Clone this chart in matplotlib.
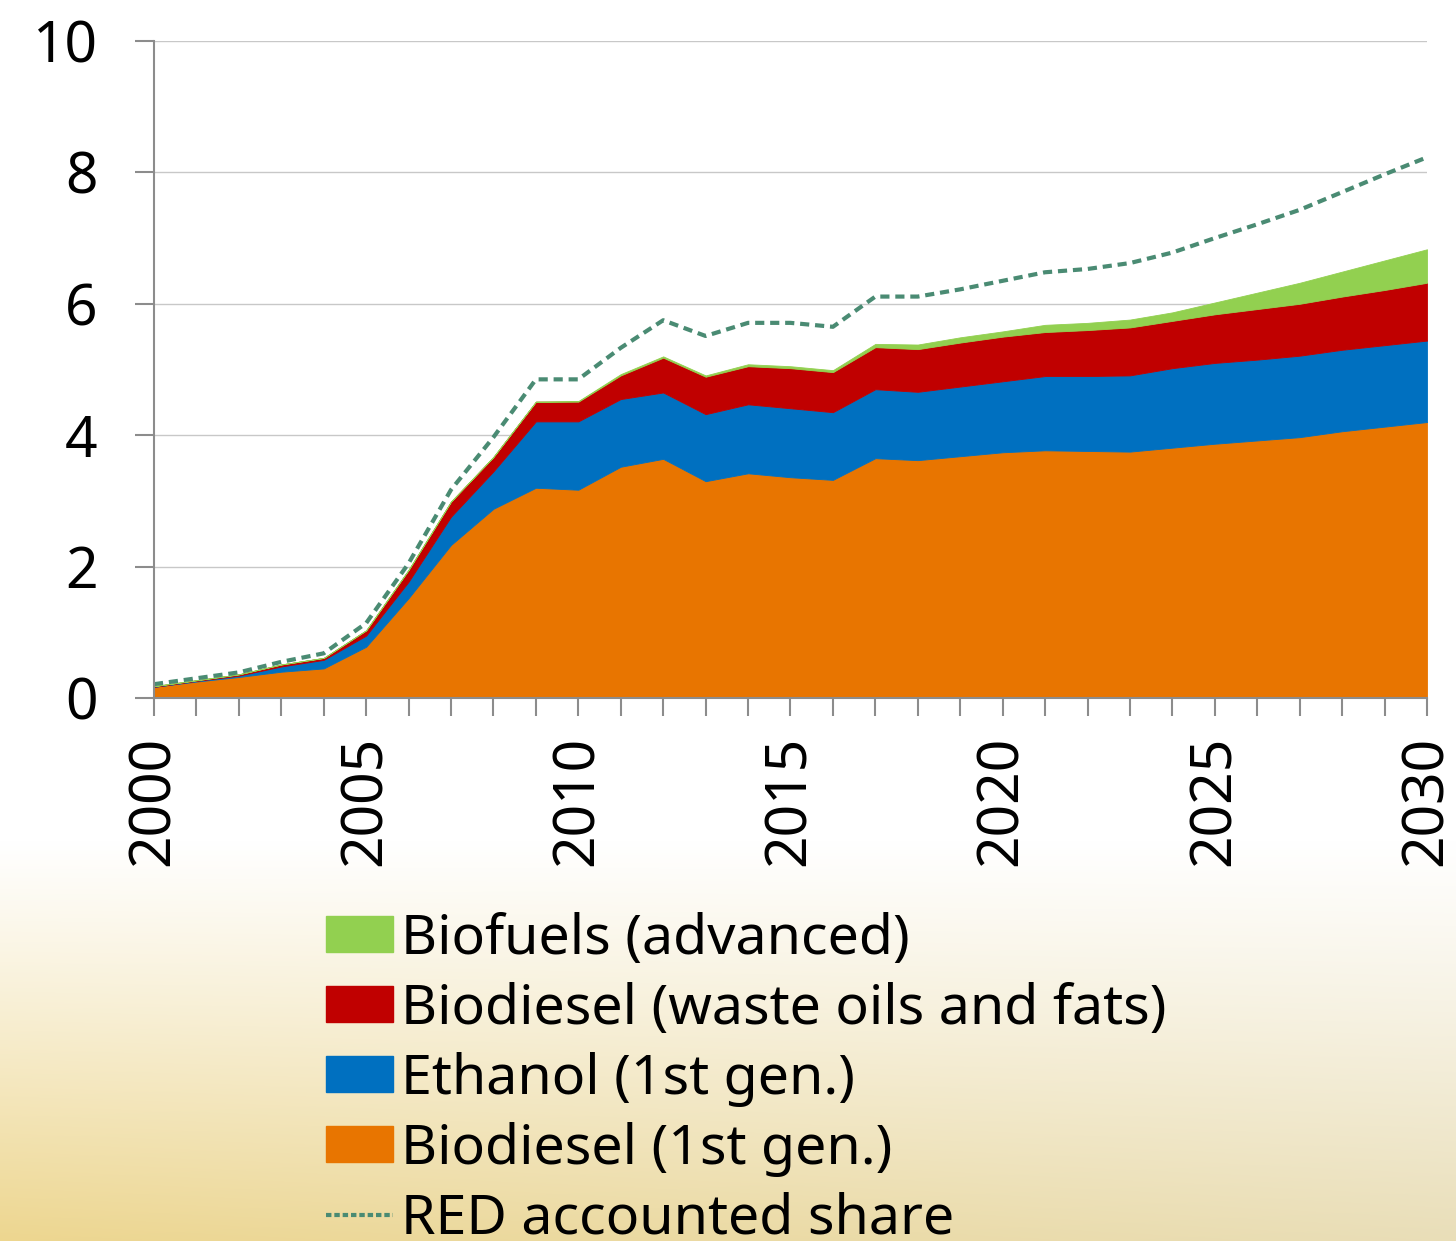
import matplotlib
matplotlib.use('Agg')
import matplotlib.pyplot as plt
from matplotlib.patches import Patch
from matplotlib.lines import Line2D
import numpy as np

plt.rcParams['font.family'] = ['Noto Sans', 'DejaVu Sans']

years = list(range(2000, 2031))

# shares per fuel type (%)
biodiesel_1st = [0.17, 0.25, 0.32, 0.40, 0.45, 0.78, 1.52, 2.33, 2.88, 3.20, 3.17,
                 3.52, 3.64, 3.30, 3.42, 3.36, 3.32, 3.65, 3.62, 3.68, 3.74,
                 3.77, 3.76, 3.75, 3.81, 3.87, 3.92, 3.97, 4.06, 4.13, 4.20]
ethanol_1st = [0.00, 0.01, 0.02, 0.08, 0.13, 0.17, 0.25, 0.43, 0.57, 1.01, 1.04,
               1.03, 1.01, 1.02, 1.05, 1.05, 1.03, 1.05, 1.04, 1.06, 1.08,
               1.13, 1.14, 1.16, 1.21, 1.23, 1.23, 1.24, 1.24, 1.24, 1.24]
biodiesel_waste = [0.01, 0.01, 0.02, 0.03, 0.03, 0.08, 0.18, 0.23, 0.22, 0.30, 0.30,
                   0.36, 0.53, 0.57, 0.58, 0.61, 0.61, 0.64, 0.65, 0.67, 0.68,
                   0.67, 0.70, 0.73, 0.72, 0.74, 0.77, 0.79, 0.81, 0.84, 0.88]
biofuels_adv = [0.00, 0.00, 0.00, 0.00, 0.00, 0.00, 0.00, 0.00, 0.00, 0.00, 0.01,
                0.02, 0.02, 0.02, 0.03, 0.03, 0.03, 0.05, 0.07, 0.08, 0.08,
                0.11, 0.11, 0.12, 0.13, 0.18, 0.25, 0.32, 0.38, 0.45, 0.51]
red_share = [0.21, 0.30, 0.39, 0.55, 0.68, 1.14, 2.05, 3.17, 3.97, 4.85, 4.85,
             5.33, 5.75, 5.51, 5.71, 5.71, 5.65, 6.11, 6.11, 6.22, 6.35,
             6.48, 6.53, 6.62, 6.78, 7.00, 7.21, 7.43, 7.70, 7.97, 8.23]

labels = ['Biodiesel (1st gen.)', 'Ethanol (1st gen.)',
          'Biodiesel (waste oils and fats)', 'Biofuels (advanced)']
colors = ['#e87500', '#0070c0', '#c00000', '#92d050']
dash_color = '#4a8b73'

W, H = 1456, 1241
fig = plt.figure(figsize=(W / 100, H / 100), dpi=100)

# background: white on top, warm beige gradient towards the bottom
bg = fig.add_axes([0, 0, 1, 1], zorder=-1)
yy = np.arange(H)[:, None]
xx = np.arange(W)[None, :] / (W - 1)
t = np.clip((yy - 840) / (H - 840), 0, 1) ** 1.1
left_c = np.array([237, 214, 143]) / 255
right_c = np.array([233, 222, 184]) / 255
bottom = left_c[None, None, :] * (1 - xx[..., None]) + right_c[None, None, :] * xx[..., None]
img = (1 - t[..., None]) * 1.0 + t[..., None] * bottom
bg.imshow(img, aspect='auto', extent=[0, 1, 0, 1])
bg.axis('off')

ax = fig.add_axes([154 / W, 1 - 698 / H, (1427 - 154) / W, (698 - 41) / H])
ax.set_facecolor('none')

ax.stackplot(years, biodiesel_1st, ethanol_1st, biodiesel_waste, biofuels_adv,
             colors=colors, linewidth=0.6, edgecolor='face', zorder=2)
ax.plot(years, red_share, color=dash_color, lw=3.0, dashes=(2.2, 1.4), zorder=3)

ax.set_xlim(2000, 2030)
ax.set_ylim(0, 10)
ax.set_yticks(range(0, 11, 2))
ax.set_xticks(range(2000, 2031, 5))
ax.set_xticks(range(2000, 2031), minor=True)
ax.grid(axis='y', color='#c8c8c8', lw=1.0, zorder=0)
ax.set_axisbelow(True)

for s in ['top', 'right']:
    ax.spines[s].set_visible(False)
for s in ['left', 'bottom']:
    ax.spines[s].set_color('#8c8c8c')
    ax.spines[s].set_linewidth(1.5)
    ax.spines[s].set_zorder(4)

ax.tick_params(axis='y', which='major', length=13.5, width=1.5, color='#8c8c8c',
               labelsize=41, pad=27)
ax.tick_params(axis='x', which='both', length=13, width=1.5, color='#8c8c8c',
               labelsize=41, pad=14, labelrotation=90)

handles = [Patch(color=colors[3]), Patch(color=colors[2]),
           Patch(color=colors[1]), Patch(color=colors[0]),
           Line2D([0], [0], color=dash_color, lw=3.0, dashes=(1.3, 0.7))]
names = [labels[3], labels[2], labels[1], labels[0], 'RED accounted share']
fig.legend(handles, names, loc='upper left', bbox_to_anchor=(326 / W, 1 - 912 / H),
           frameon=False, fontsize=40, handlelength=1.2, handleheight=0.62,
           handletextpad=0.15, labelspacing=0.27, borderpad=0, borderaxespad=0)

fig.savefig('out.png', dpi=100)
